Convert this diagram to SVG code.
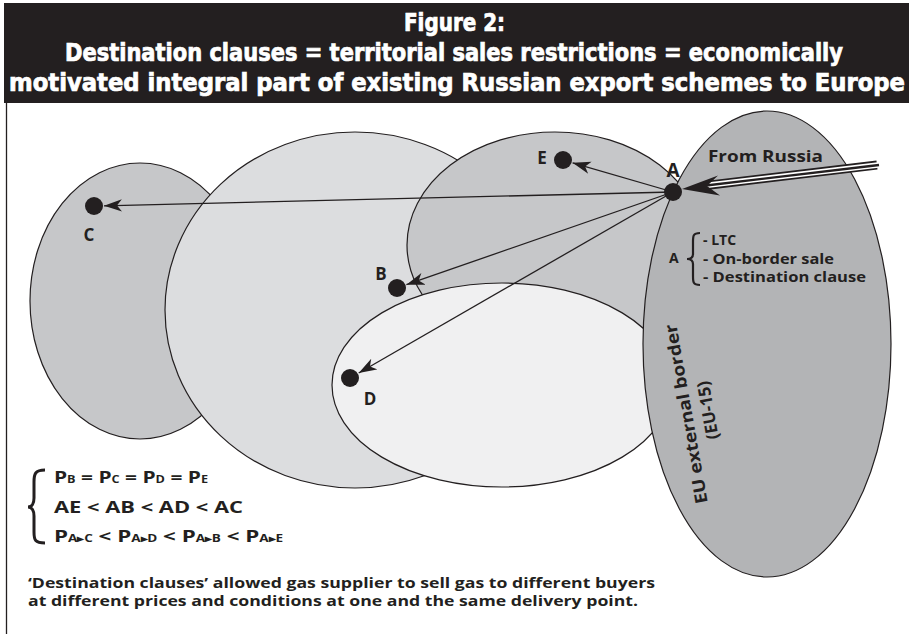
<svg xmlns="http://www.w3.org/2000/svg" width="909" height="634" viewBox="0 0 909 634">
<style>
.reg{stroke:#231f20;stroke-width:1.2}
.dot{fill:#231f20}
.lbl{font-family:"Open Sans","Noto Sans","Liberation Sans",sans-serif;font-weight:700;fill:#231f20}
.ttl{font-family:"DejaVu Sans Condensed","Liberation Sans Narrow","DejaVu Sans",sans-serif;font-weight:700;fill:#ffffff;stroke:#ffffff;stroke-width:0.7;font-size:24px}
.con{stroke:#231f20;stroke-width:1.3;fill:none}
.sub{font-size:10px}
</style>
<defs>
<marker id="ah" markerUnits="userSpaceOnUse" markerWidth="20" markerHeight="14" refX="18" refY="7" orient="auto">
<path d="M18,7 L0,0.8 L5,7 L0,13.2 Z" fill="#231f20"/>
</marker>
</defs>
<rect x="4" y="3" width="905" height="100" fill="#231f20"/>
<line x1="6.5" y1="103" x2="6.5" y2="634" stroke="#231f20" stroke-width="1.3"/>
<g id="title">
<text class="ttl" x="454.5" y="31" text-anchor="middle" textLength="101" lengthAdjust="spacingAndGlyphs">Figure 2:</text>
<text class="ttl" x="454" y="61" text-anchor="middle" textLength="778" lengthAdjust="spacingAndGlyphs">Destination clauses = territorial sales restrictions = economically</text>
<text class="ttl" x="457" y="91" text-anchor="middle" textLength="896" lengthAdjust="spacingAndGlyphs">motivated integral part of existing Russian export schemes to Europe</text>
</g>
<g id="regions">
<ellipse id="region-C" class="reg" cx="140" cy="301" rx="110" ry="138" fill="#c6c7c9"/>
<ellipse id="region-B" class="reg" cx="355" cy="310" rx="190" ry="178" fill="#dcdddf"/>
<ellipse id="region-E" class="reg" cx="555" cy="245" rx="148" ry="113" fill="#c6c7c9"/>
<ellipse id="region-D" class="reg" cx="502" cy="385" rx="170" ry="102" fill="#f0f0f1"/>
<ellipse id="region-EU" class="reg" cx="767" cy="344" rx="124" ry="233" fill="#b3b4b6"/>
</g>
<g id="connectors">
<line class="con" x1="673" y1="192" x2="572.6" y2="162.8" marker-end="url(#ah)"/>
<line class="con" x1="673" y1="192" x2="104" y2="205.8" marker-end="url(#ah)"/>
<line class="con" x1="673" y1="192" x2="406.4" y2="284.7" marker-end="url(#ah)"/>
<line class="con" x1="673" y1="192" x2="358.7" y2="373" marker-end="url(#ah)"/>
<g id="from-russia">
<path d="M877,165 L706,185.5" stroke="#231f20" stroke-width="9" fill="none"/>
<path d="M878,165 L705,185.6" stroke="#ffffff" stroke-width="5.5" fill="none"/>
<path d="M879,165 L704,185.7" stroke="#231f20" stroke-width="2.4" fill="none"/>
<path d="M682,189 L718,175.5 L707,186 L720,195.5 Z" fill="#231f20"/>
</g>
</g>
<g id="node-A">
<circle class="dot" cx="673" cy="192" r="9"/>
<text class="lbl" x="673" y="177" font-size="19" text-anchor="middle">A</text>
</g>
<g id="node-E">
<circle class="dot" cx="563" cy="160" r="9"/>
<text class="lbl" x="542" y="164" font-size="17" text-anchor="middle">E</text>
</g>
<g id="node-C">
<circle class="dot" cx="94" cy="206" r="9"/>
<text class="lbl" x="89" y="241" font-size="17" text-anchor="middle">C</text>
</g>
<g id="node-B">
<circle class="dot" cx="397" cy="288" r="9"/>
<text class="lbl" x="381" y="280" font-size="17" text-anchor="middle">B</text>
</g>
<g id="node-D">
<circle class="dot" cx="350" cy="378" r="9"/>
<text class="lbl" x="370" y="405" font-size="17" text-anchor="middle">D</text>
</g>
<g id="from-russia-label">
<text class="lbl" x="708" y="162" font-size="16.5" textLength="115" lengthAdjust="spacingAndGlyphs">From Russia</text>
</g>
<g id="a-properties">
<text class="lbl" x="669" y="263" font-size="14">A</text>
<path d="M700,233 C693,233 693,236 693,242 L693,254 C693,257 691,259 687,259 C691,259 693,261 693,264 L693,276 C693,282 693,285 700,285" fill="none" stroke="#231f20" stroke-width="2.2"/>
<text class="lbl" x="703" y="245" font-size="14">- LTC</text>
<text class="lbl" x="703" y="263.5" font-size="14" textLength="131" lengthAdjust="spacingAndGlyphs">- On-border sale</text>
<text class="lbl" x="703" y="282" font-size="14" textLength="163" lengthAdjust="spacingAndGlyphs">- Destination clause</text>
</g>
<g id="eu-label" transform="translate(692,413) rotate(-100)">
<text class="lbl" x="0" y="0" font-size="17" text-anchor="middle" textLength="182" lengthAdjust="spacingAndGlyphs">EU external border</text>
<text class="lbl" x="0" y="22" font-size="17" text-anchor="middle">(EU-15)</text>
</g>
<g id="formulas">
<path d="M45,470 C35,470 34,474 34,482 L34,498 C34,503 32,507 28,507 C32,507 34,511 34,516 L34,532 C34,540 35,543 45,543" fill="none" stroke="#231f20" stroke-width="3"/>
<text class="lbl" x="54" y="483" font-size="16.5" textLength="154" lengthAdjust="spacingAndGlyphs">P<tspan class="sub">B</tspan> = P<tspan class="sub">C</tspan> = P<tspan class="sub">D</tspan> = P<tspan class="sub">E</tspan></text>
<text class="lbl" x="54" y="513" font-size="16.5" textLength="189" lengthAdjust="spacingAndGlyphs">AE &lt; AB &lt; AD &lt; AC</text>
<text class="lbl" x="54" y="542" font-size="16.5" textLength="229" lengthAdjust="spacingAndGlyphs">P<tspan class="sub">A▸C</tspan> &lt; P<tspan class="sub">A▸D</tspan> &lt; P<tspan class="sub">A▸B</tspan> &lt; P<tspan class="sub">A▸E</tspan></text>
</g>
<g id="footnote">
<text class="lbl" x="28" y="588" font-size="14.5" textLength="627" lengthAdjust="spacingAndGlyphs">‘Destination clauses’ allowed gas supplier to sell gas to different buyers</text>
<text class="lbl" x="28" y="606" font-size="14.5" textLength="610" lengthAdjust="spacingAndGlyphs">at different prices and conditions at one and the same delivery point.</text>
</g>
</svg>
